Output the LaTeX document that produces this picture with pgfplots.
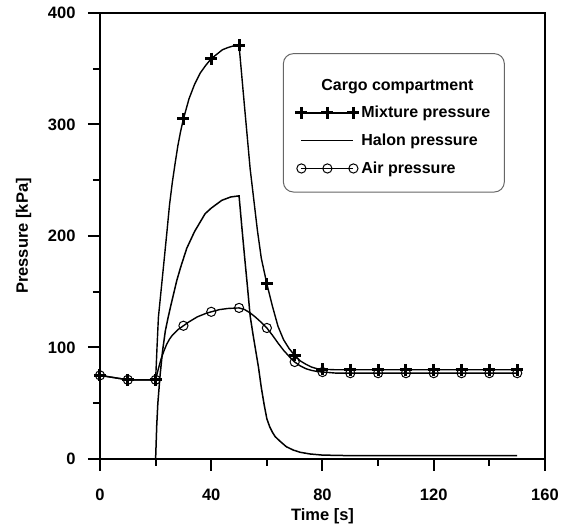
\documentclass[border=0pt]{standalone}
\usepackage{fontspec}
\setmainfont{Liberation Sans}
\usepackage{pgfplots}
\pgfplotsset{compat=1.18}
\newcommand\lf{\fontsize{16}{19}\selectfont\bfseries}
\newcommand\tf{\fontsize{16.5}{19}\selectfont\bfseries}

\pgfplotsset{
  mixline/.style={black, line width=1.4pt, mark=none},
  mixmark/.style={black, only marks, mark=+, mark size=6pt, mark options={line width=3pt}},
  airline/.style={black, line width=1.4pt, mark=none},
  airmark/.style={black, only marks, mark=o, mark size=4.6pt, mark options={line width=1pt}},
  halline/.style={black, line width=1.5pt, mark=none},
}

\begin{document}
\begin{tikzpicture}
\path[use as bounding box] (-100pt,-73pt) rectangle (466pt,459pt);
\begin{axis}[
  at={(0pt,0pt)}, anchor=south west,
  scale only axis, width=445pt, height=446pt,
  xmin=0, xmax=160, ymin=0, ymax=400,
  xtick={0,40,...,160}, ytick={0,100,...,400},
  minor xtick={20,60,100,140}, minor ytick={50,150,250,350},
  xtick pos=bottom, ytick pos=left,
  tick align=outside,
  major tick length=12pt, minor tick length=7pt,
  axis line style={line width=2pt},
  tick style={line width=2pt, black},
  /pgf/number format/assume math mode=true,
  ticklabel style={font=\tf},
  xticklabel style={yshift=-14pt},
  yticklabel style={xshift=-9pt},
  label style={font=\tf},
  xlabel={Time [s]}, ylabel={Pressure [kPa]},
  xlabel style={at={(axis description cs:0.5,-0.139)}, anchor=base},
  ylabel style={at={(axis description cs:-0.1618,0.5)}, anchor=base},
  legend cell align=left,
  legend image code/.code={\draw[#1, mark repeat=1, mark phase=1] plot coordinates {(0pt,0pt) (26pt,0pt) (52pt,0pt)};},
  legend style={at={(rel axis cs:0.411,0.910)}, anchor=north west,
    draw=black!60, line width=1pt, rounded corners=10pt,
    inner xsep=12pt, inner ysep=15pt, font=\lf, row sep=10.7pt},
]
\addlegendimage{empty legend}
\addlegendentry{\hspace*{-40pt}\rule{0pt}{19.5pt}Cargo compartment}
\addlegendimage{black, line width=1.4pt, mark=+, mark size=6pt, mark options={line width=3pt}}
\addlegendentry{Mixture pressure}
\addlegendimage{black, line width=1.5pt}
\addlegendentry{Halon pressure}
\addlegendimage{black, line width=1.4pt, mark=o, mark size=4.6pt, mark options={line width=1pt}}
\addlegendentry{Air pressure}

% mixture
\addplot[mixline, forget plot] coordinates {
  (0,75) (10,71) (20,71) (20.5,100) (21,127) (22,152) (23,177) (24,202)
  (25,228) (26,248) (27,265) (28,281) (29,294) (30,305) (32,323) (34,336)
  (36,346) (38,353) (40,359) (42,363) (44,367) (46,369) (48,370.5) (50,371)
  (52,315) (54,260) (56.6,205) (58,180) (60,157) (62,137) (64,119) (66,107)
  (68,99) (70,93) (72,88) (74,85) (76,82.5) (78,81) (80,80.5) (85,80)
  (90,80) (150,80)
};
\addplot[mixmark, forget plot] coordinates {
  (0,75) (10,71) (20,71) (30,305) (40,359) (50,371) (60,157) (70,93)
  (80,80.5) (90,80) (100,80) (110,80) (120,80) (130,80) (140,80) (150,80)
};
% halon
\addplot[halline, forget plot] coordinates {
  (20,0) (20.4,30) (20.8,50) (21.6,75) (22.5,97) (23.5,115) (24.5,127)
  (25.5,138) (27.6,160) (29,172) (31.2,189) (34,204) (37.8,220) (40,225)
  (43.8,232) (47,235) (50,236) (51,208) (52,181) (53,155) (54,128) (55,112)
  (56,97) (57,82) (58,64) (59,49) (60,36) (61,29) (62,24) (63,20) (64.7,16)
  (67,11) (69.5,8) (72,6) (75.5,4.5) (80,3.5) (90,3) (150,3)
};
% air
\addplot[airline, forget plot] coordinates {
  (0,75) (10,71) (20,71) (20.5,76) (21,81) (22,90) (23,97) (24,103)
  (25,107.5) (26,111) (28,116) (30,119.5) (32,123) (35,127.5) (38,130.5)
  (40,132) (43,134) (46,135) (50,135.5) (52,134) (54,131) (56,127)
  (58,122.5) (60,117.5) (62,111) (64,104) (66,97.5) (68,92) (70,87)
  (72,83.5) (74,81) (76,79.5) (78,78.5) (80,78) (85,77) (90,77) (150,77)
};
\addplot[airmark, forget plot] coordinates {
  (0,75) (10,71) (20,71) (30,119.5) (40,132) (50,135.5) (60,117.5) (70,87)
  (80,78) (90,77) (100,77) (110,77) (120,77) (130,77) (140,77) (150,77)
};
\end{axis}
\end{tikzpicture}
\end{document}
